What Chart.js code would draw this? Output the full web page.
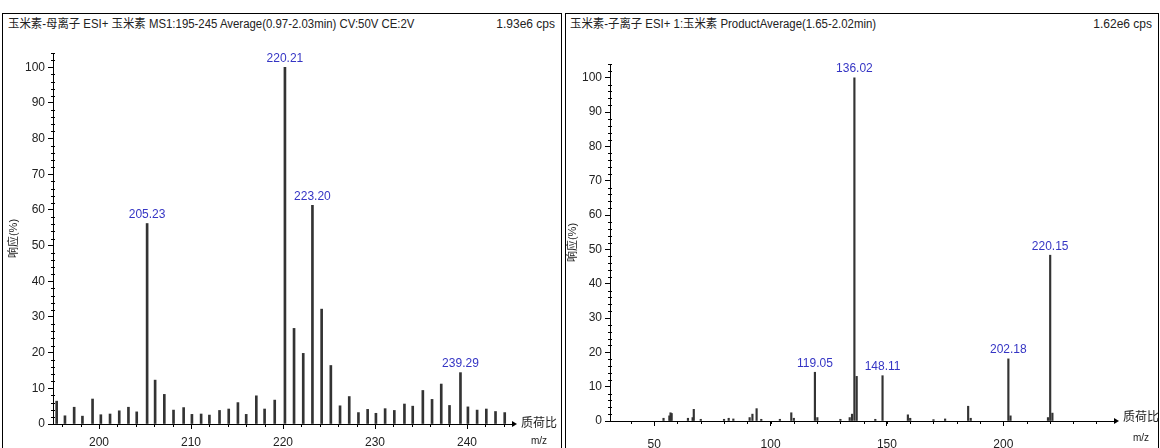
<!DOCTYPE html>
<html>
<head>
<meta charset="utf-8">
<script src="https://cdn.jsdelivr.net/npm/chart.js@4"></script>
<style>
    body { margin: 0; background: #fff; width: 1160px; height: 448px; overflow: hidden; position: relative;
           font-family: 'Liberation Sans Narrow', 'Liberation Sans', Arial, 'Noto Sans CJK SC', sans-serif; }
    .panel { position: absolute; border: 1px solid #000; box-sizing: border-box; }
    .head { position: absolute; font-size: 12px; color: #222; white-space: nowrap; line-height: 14px; }
    .narrow { transform: scaleX(0.95); transform-origin: left center; }
    canvas { position: absolute; }
</style>
</head>
<body>
<div class="panel" style="left:2px;top:13px;width:560px;height:440px"></div>
<div class="panel" style="left:565px;top:13px;width:594px;height:440px"></div>

<div class="head narrow" style="left:8px;top:17px">玉米素-母离子 ESI+ 玉米素 MS1:195-245 Average(0.97-2.03min) CV:50V CE:2V</div>
<div class="head" style="right:605px;top:17px">1.93e6 cps</div>
<div class="head narrow" style="left:570px;top:17px">玉米素-子离子 ESI+ 1:玉米素 ProductAverage(1.65-2.02min)</div>
<div class="head" style="right:8px;top:17px">1.62e6 cps</div>

<canvas id="ms1Chart" width="557" height="412" style="left:3px;top:36px"></canvas>
<canvas id="ms2Chart" width="592" height="412" style="left:566px;top:36px"></canvas>

<script>
// MS1 spectrum (parent ion), m/z vs relative response %
const ms1Mz = [195.4, 196.3, 197.3, 198.2, 199.3, 200.2, 201.2, 202.2, 203.2, 204.1,
    205.23, 206.1, 207.1, 208.1, 209.2, 210.1, 211.1, 212.0, 213.1, 214.1, 215.1, 216.0, 217.1, 218.0, 219.1,
    220.21, 221.2, 222.2, 223.20, 224.2, 225.2, 226.2, 227.2, 228.2, 229.2,
    230.1, 231.1, 232.1, 233.2, 234.1, 235.2, 236.2, 237.2, 238.1, 239.29,
    240.1, 241.1, 242.1, 243.1, 244.1];
const ms1Intensity = [6.4, 2.3, 4.7, 2.2, 7.0, 2.6, 2.8, 3.7, 4.7, 3.4,
    56.2, 12.3, 8.3, 3.9, 4.6, 2.7, 2.8, 2.5, 3.8, 4.2, 6.0, 2.7, 7.9, 4.2, 6.7,
    100, 26.8, 19.8, 61.3, 32.2, 16.4, 5.1, 7.7, 3.2, 4.1,
    3.0, 4.3, 3.8, 5.6, 5.0, 9.4, 6.9, 11.2, 5.2, 14.4,
    4.8, 3.9, 4.2, 3.5, 3.2];
const ms1PeakLabels = ['205.23', '220.21', '223.20', '239.29'];
const ms1XTicks = [200, 210, 220, 230, 240];

// product ion spectrum
const ms2Mz = [54.0, 56.5, 57.0, 57.5, 64.5, 66.5, 67.0, 70.0, 80.0, 82.0,
    84.0, 91.0, 92.2, 94.0, 96.0, 104.0, 108.9, 110.0, 119.05, 120.1,
    130.0, 134.0, 135.0, 136.02, 137.0, 145.0, 148.11, 159.0, 160.0, 170.0,
    175.0, 184.9, 186.0, 202.18, 203.1, 219.2, 220.15, 221.1];
const ms2Intensity = [0.8, 1.5, 2.4, 2.2, 0.8, 1.0, 3.4, 0.5, 0.5, 0.8,
    0.6, 1.0, 2.0, 3.6, 0.5, 0.5, 2.4, 0.8, 14.2, 1.0,
    0.5, 1.0, 2.0, 100, 13.0, 0.5, 13.2, 1.8, 0.8, 0.4,
    0.6, 4.3, 0.8, 18.1, 1.5, 1.0, 48.3, 2.3];
const ms2PeakLabels = ['136.02', '119.05', '148.11', '202.18', '220.15'];
const ms2XTicks = [50, 100, 150, 200];

const yTicks = [0, 10, 20, 30, 40, 50, 60, 70, 80, 90, 100];

const FONT = "'Liberation Sans Narrow', 'Liberation Sans', Arial, 'Noto Sans CJK SC', sans-serif";

// draws minor ticks, axis arrow, m/z caption and peak labels
const spectrumDecor = {
    id: 'spectrumDecor',
    afterDraw(chart, args, opts) {
        const { ctx, chartArea } = chart;
        const xs = chart.scales.x, ys = chart.scales.y;
        ctx.save();
        ctx.strokeStyle = '#000';
        ctx.lineWidth = 1;
        ctx.beginPath();
        for (let v = 0; v <= ys.max; v += opts.yMinor) {
            if (v % 10 === 0) continue;
            const py = Math.round(ys.getPixelForValue(v)) + 0.5;
            ctx.moveTo(chartArea.left - 2, py);
            ctx.lineTo(chartArea.left + 2, py);
        }
        const start = Math.ceil(xs.min / opts.xMinor) * opts.xMinor;
        for (let v = start; v <= xs.max; v += opts.xMinor) {
            const px = Math.round(xs.getPixelForValue(v)) + 0.5;
            ctx.moveTo(px, chartArea.bottom);
            ctx.lineTo(px, chartArea.bottom + 3);
        }
        ctx.stroke();

        // arrow at x axis end
        ctx.fillStyle = '#000';
        ctx.beginPath();
        ctx.moveTo(chartArea.right + 4, chartArea.bottom);
        ctx.lineTo(chartArea.right - 1, chartArea.bottom - 3);
        ctx.lineTo(chartArea.right - 1, chartArea.bottom + 3);
        ctx.closePath();
        ctx.fill();

        // x caption
        ctx.fillStyle = '#222';
        ctx.textAlign = 'center';
        ctx.textBaseline = 'middle';
        ctx.font = '12px ' + FONT;
        ctx.fillText('质荷比', chartArea.right + 26, chartArea.bottom + opts.capShift);
        ctx.font = '10px ' + FONT;
        ctx.fillText('m/z', chartArea.right + 26, chartArea.bottom + 17);

        // peak labels
        const meta = chart.getDatasetMeta(0);
        const mz = chart.data.datasets[0].data.map(d => d.x);
        ctx.fillStyle = '#3535c4';
        ctx.font = '12px ' + FONT;
        ctx.textBaseline = 'bottom';
        opts.labels.forEach(lbl => {
            const i = mz.indexOf(parseFloat(lbl));
            if (i < 0) return;
            const bar = meta.data[i];
            ctx.fillText(lbl, bar.x, bar.y - 3);
        });
        ctx.restore();
    }
};

function createSpectrum(canvasId, cfg) {
    const ctx = document.getElementById(canvasId).getContext('2d');
    return new Chart(ctx, {
        type: 'bar',
        data: {
            datasets: [{
                data: cfg.mz.map((x, i) => ({ x, y: cfg.intensity[i] })),
                backgroundColor: '#333',
                borderWidth: 0,
                barThickness: cfg.barWidth
            }]
        },
        options: {
            responsive: false,
            animation: false,
            devicePixelRatio: 1,
            layout: { padding: cfg.padding },
            plugins: {
                legend: { display: false },
                tooltip: { enabled: false },
                spectrumDecor: { labels: cfg.labels, yMinor: 2, xMinor: cfg.xMinor, capShift: cfg.capShift }
            },
            scales: {
                x: {
                    type: 'linear',
                    min: cfg.xMin,
                    max: cfg.xMax,
                    offset: false,
                    afterBuildTicks: axis => { axis.ticks = cfg.xTicks.map(v => ({ value: v })); },
                    afterFit: axis => { axis.height = cfg.xHeight; },
                    grid: { display: true, drawOnChartArea: false, offset: false, tickLength: 5, tickColor: '#000' },
                    border: { display: true, color: '#000', width: 1 },
                    ticks: { font: { family: FONT, size: 12 }, color: '#222', padding: cfg.xPad, maxRotation: 0 }
                },
                y: {
                    min: 0,
                    max: 104,
                    afterBuildTicks: axis => { axis.ticks = yTicks.map(v => ({ value: v })); },
                    afterFit: axis => { axis.width = cfg.yWidth; },
                    grid: { display: true, drawOnChartArea: false, tickLength: 5, tickColor: '#000' },
                    border: { display: true, color: '#000', width: 1 },
                    ticks: { font: { family: FONT, size: 12 }, color: '#222', padding: 3 },
                    title: {
                        display: true,
                        text: '响应(%)',
                        font: { family: FONT, size: 11 },
                        color: '#222',
                        padding: { top: cfg.titlePad, bottom: 0 }
                    }
                }
            }
        },
        plugins: [spectrumDecor]
    });
}

createSpectrum('ms1Chart', {
    mz: ms1Mz, intensity: ms1Intensity, labels: ms1PeakLabels, xTicks: ms1XTicks,
    xMin: 195, xMax: 245, xMinor: 2, barWidth: 2,
    padding: { top: 17, right: 47, left: 0, bottom: 0 },
    yWidth: 50, xHeight: 24, xPad: 6, titlePad: 4, capShift: 0
});

createSpectrum('ms2Chart', {
    mz: ms2Mz, intensity: ms2Intensity, labels: ms2PeakLabels, xTicks: ms2XTicks,
    xMin: 31, xMax: 248, xMinor: 10, barWidth: 1.5,
    padding: { top: 28, right: 43, left: 0, bottom: 0 },
    yWidth: 44, xHeight: 27, xPad: 11, titlePad: 0, capShift: -3
});
</script>
</body>
</html>
